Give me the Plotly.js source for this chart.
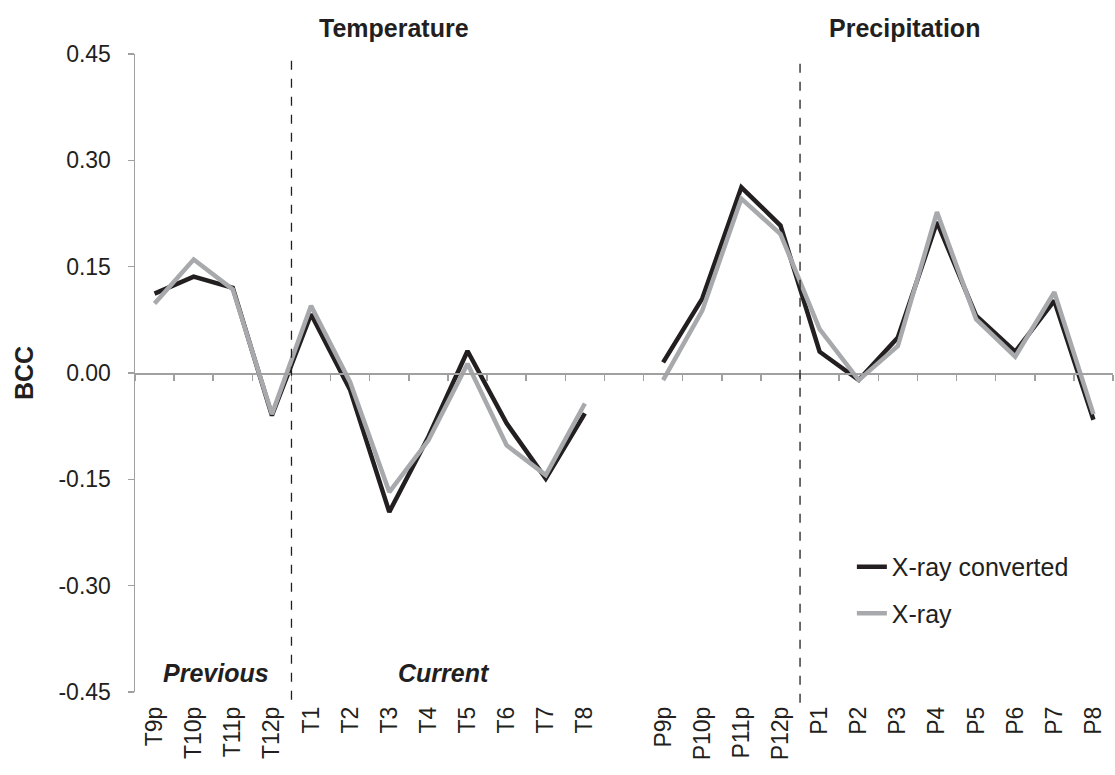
<!DOCTYPE html>
<html>
<head>
<meta charset="utf-8">
<script src="https://cdn.plot.ly/plotly-3.0.1.min.js"></script>
<style>html,body{margin:0;padding:0;background:#fff;}#chart{width:1115px;height:775px;}</style>
</head>
<body>
<div id="chart"></div>
<script>
// Categories (a blank slot separates the two panels)
const tempCategories = ["T9p","T10p","T11p","T12p","T1","T2","T3","T4","T5","T6","T7","T8"];
const precCategories = ["P9p","P10p","P11p","P12p","P1","P2","P3","P4","P5","P6","P7","P8"];
const gapCategory = [" "];

// X-ray converted (black)
const convertedTemp = [0.112, 0.136, 0.120, -0.060, 0.083, -0.024, -0.196, -0.090, 0.031, -0.071, -0.149, -0.057];
const convertedPrec = [0.015, 0.105, 0.262, 0.208, 0.030, -0.010, 0.050, 0.213, 0.081, 0.030, 0.102, -0.066];

// X-ray (grey)
const xrayTemp = [0.098, 0.160, 0.118, -0.058, 0.095, -0.013, -0.168, -0.095, 0.013, -0.102, -0.144, -0.043];
const xrayPrec = [-0.010, 0.088, 0.246, 0.196, 0.062, -0.010, 0.038, 0.227, 0.076, 0.023, 0.114, -0.058];

// Y tick labels
const yTickValues = [-0.45, -0.30, -0.15, 0.00, 0.15, 0.30, 0.45];
const yTickLabels = ["-0.45", "-0.30", "-0.15", "0.00", "0.15", "0.30", "0.45"];

const categories = tempCategories.concat(gapCategory, precCategories);
const converted = convertedTemp.concat([null], convertedPrec);
const xray = xrayTemp.concat([null], xrayPrec);

const FONT = "Liberation Sans, Arial, sans-serif";
const TXT = "#231f20";
const AX = "#a0a0a0";

const traces = [
  {x: categories, y: converted, type: "scatter", mode: "lines", name: "X-ray converted",
   legendgroup: "a", line: {color: "#231f20", width: 4.5}, connectgaps: false},
  {x: categories, y: xray, type: "scatter", mode: "lines", name: "X-ray",
   legendgroup: "b", line: {color: "#a7a9ac", width: 4.5}, connectgaps: false},
  // invisible trace carrying the boundary ticks of the zero line (xaxis2)
  {x: categories, y: converted, xaxis: "x2", type: "scatter", mode: "lines",
   line: {width: 0}, showlegend: false, hoverinfo: "skip", opacity: 0}
];

const layout = {
  width: 1115, height: 775,
  margin: {l: 135, r: 2, t: 54, b: 83},
  paper_bgcolor: "#fff", plot_bgcolor: "#fff",
  font: {family: FONT, color: TXT, size: 23},
  showlegend: true,
  legend: {x: 0.733, y: 0.232, xanchor: "left", yanchor: "top", traceorder: "grouped",
           tracegroupgap: 11,
           font: {family: FONT, size: 25, color: TXT}, bgcolor: "rgba(0,0,0,0)",
           itemwidth: 30},
  xaxis: {type: "category", categoryorder: "array", categoryarray: categories,
          range: [-0.5, categories.length - 0.5],
          showline: false, showgrid: false, zeroline: false, ticks: "",
          tickangle: -90, tickfont: {family: FONT, size: 23, color: TXT},
          ticklabelstandoff: 9, fixedrange: true},
  xaxis2: {type: "category", categoryorder: "array", categoryarray: categories,
           range: [-0.5, categories.length - 0.5],
           overlaying: "x", anchor: "free", position: 0.5,
           showline: true, linecolor: AX, linewidth: 1.5,
           ticks: "outside", ticklen: 6, tickwidth: 1.5, tickcolor: AX,
           tickson: "boundaries", showticklabels: false, showgrid: false, zeroline: false},
  yaxis: {range: [-0.45, 0.45], tickmode: "array", tickvals: yTickValues, ticktext: yTickLabels,
          showline: true, linecolor: AX, linewidth: 1.5,
          ticks: "outside", ticklen: 6, tickwidth: 1.5, tickcolor: AX,
          showgrid: false, zeroline: false, ticklabelstandoff: 12,
          tickfont: {family: FONT, size: 23, color: TXT},
          title: {text: "<b>BCC</b>", font: {family: FONT, size: 25, color: TXT}, standoff: 17}},
  shapes: [
    {type: "line", xref: "x", yref: "paper", x0: 3.5, x1: 3.5, y0: -0.012, y1: 1,
     line: {color: "#231f20", width: 1.3, dash: "dash"}},
    {type: "line", xref: "x", yref: "paper", x0: 16.5, x1: 16.5, y0: -0.017, y1: 0.994,
     line: {color: "#231f20", width: 1.3, dash: "dash"}}
  ],
  annotations: [
    {text: "<b>Temperature</b>", xref: "paper", yref: "paper", x: (394 - 135) / 978, y: 1.041,
     xanchor: "center", yanchor: "middle", showarrow: false, font: {family: FONT, size: 25, color: TXT}},
    {text: "<b>Precipitation</b>", xref: "paper", yref: "paper", x: (904 - 135) / 978, y: 1.041,
     xanchor: "center", yanchor: "middle", showarrow: false, font: {family: FONT, size: 25, color: TXT}},
    {text: "<b><i>Previous</i></b>", xref: "paper", yref: "paper", x: (216 - 135) / 978, y: 0.03,
     xanchor: "center", yanchor: "middle", showarrow: false, font: {family: FONT, size: 25, color: TXT}},
    {text: "<b><i>Current</i></b>", xref: "paper", yref: "paper", x: (444 - 135) / 978, y: 0.03,
     xanchor: "center", yanchor: "middle", showarrow: false, font: {family: FONT, size: 25, color: TXT}}
  ]
};

Plotly.newPlot("chart", traces, layout, {displayModeBar: false, staticPlot: true});
</script>
</body>
</html>
